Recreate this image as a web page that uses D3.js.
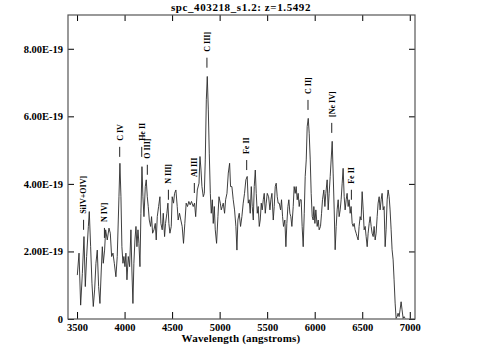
<!DOCTYPE html>
<html>
<head>
<meta charset="utf-8">
<script src="https://cdn.jsdelivr.net/npm/d3@7"></script>
<style>
  body { margin: 0; background: #fff; }
  text { font-family: "Liberation Serif", serif; font-weight: bold; }
</style>
</head>
<body>
<div id="app"></div>
<script>
var width = 483,
  height = 358;

// spectrum, wavelength in angstroms, flux in units of 1e-19
var wave = [3503,3521,3538,3556,3573,3587,3601,3619,3629,3643,3657,3671,3685,3699,3713,3727,3741,3755,3766,3776,
  3790,3801,3818,3836,3850,3864,3878,3892,3909,3923,3941,3951,3962,3972,3983,3993,4004,4014,4025,4039,
  4053,4067,4077,4088,4098,4109,4120,4130,4141,4151,4162,4172,4183,4193,4204,4218,4228,4239,4249,4260,
  4274,4284,4295,4309,4323,4333,4344,4358,4372,4382,4396,4407,4421,4431,4445,4456,4466,4477,4491,4501,
  4515,4526,4540,4554,4564,4578,4592,4606,4620,4634,4648,4662,4676,4690,4704,4722,4736,4748,4765,4783,
  4793,4804,4814,4828,4839,4849,4860,4870,4881,4891,4902,4912,4923,4933,4944,4954,4968,4982,4993,5007,
  5017,5028,5038,5052,5063,5077,5091,5105,5115,5129,5143,5157,5171,5182,5192,5206,5220,5234,5248,5262,
  5276,5290,5301,5311,5322,5333,5343,5354,5364,5375,5385,5396,5406,5417,5427,5438,5448,5459,5469,5480,
  5490,5501,5515,5529,5539,5550,5564,5574,5585,5595,5606,5616,5627,5641,5651,5662,5672,5686,5697,5707,
  5718,5728,5739,5749,5760,5774,5784,5795,5805,5816,5826,5837,5847,5858,5868,5879,5890,5900,5911,5921,
  5932,5942,5953,5963,5974,5984,5991,6002,6012,6026,6037,6047,6061,6072,6082,6096,6107,6117,6131,6142,
  6152,6163,6173,6184,6194,6205,6215,6226,6236,6247,6257,6268,6278,6289,6299,6310,6320,6331,6341,6352,
  6362,6373,6383,6394,6404,6415,6425,6436,6446,6457,6467,6478,6488,6499,6510,6520,6531,6541,6552,6562,
  6573,6583,6594,6604,6615,6625,6636,6646,6657,6667,6678,6688,6699,6709,6720,6730,6741,6751,6762,6772,
  6783,6793,6804,6814,6825,6835,6846,6856,6867,6877,6888,6898,6909,6919,6930,6940,6951];

var flux = [1.30,1.95,0.41,1.35,2.44,0.96,1.85,2.74,3.18,2.14,1.06,0.37,0.86,1.65,2.04,0.96,0.46,1.45,2.14,1.65,
  2.04,2.64,2.34,2.69,2.54,1.85,1.95,1.65,1.25,1.85,3.62,4.61,3.62,2.14,1.65,1.85,1.55,1.95,1.16,1.85,
  1.55,2.64,1.45,0.46,1.65,2.34,2.74,2.14,2.64,2.24,1.55,3.13,4.51,3.62,3.03,3.92,4.12,3.62,3.33,2.93,
  2.74,3.03,2.54,2.64,2.83,2.34,3.03,3.33,3.62,2.83,2.64,3.13,2.44,2.83,3.13,3.43,2.83,2.54,2.74,3.62,
  3.43,3.72,3.82,3.33,2.93,3.13,2.93,2.74,2.24,2.83,3.43,3.33,3.48,3.38,3.48,3.33,3.43,3.03,3.82,4.02,
  4.81,4.41,3.92,3.62,3.72,4.71,6.49,7.18,6.19,4.91,3.72,3.13,3.53,2.83,3.33,2.64,2.24,3.03,3.62,3.43,
  3.23,3.33,3.43,3.13,3.53,3.72,4.32,4.61,3.92,3.92,3.53,3.23,2.74,2.04,2.93,3.13,2.74,3.03,3.43,3.72,
  4.12,4.22,3.43,3.53,3.13,3.92,3.33,2.93,3.92,4.41,3.72,3.13,3.33,2.74,2.93,3.43,3.23,3.53,3.72,3.13,
  3.43,3.72,3.62,3.23,3.53,3.72,2.93,3.33,3.92,4.02,3.62,3.43,3.43,3.23,3.53,3.03,2.74,2.93,2.14,2.83,
  3.33,3.53,3.13,3.03,2.74,3.33,3.92,3.72,3.92,3.53,3.72,3.33,3.53,3.53,2.74,2.14,3.13,4.22,4.71,5.70,
  5.94,5.50,4.71,3.72,3.03,2.93,3.33,2.83,3.23,2.74,2.93,2.64,2.74,3.13,3.53,3.82,3.33,3.72,4.12,3.23,
  3.72,4.22,4.71,5.26,4.32,3.23,2.05,2.74,3.23,3.53,3.03,3.23,3.53,4.02,4.46,3.62,3.23,3.53,3.72,3.33,
  3.53,3.13,3.33,2.83,2.74,2.83,2.64,2.54,2.44,2.34,2.74,3.03,2.93,3.77,3.23,2.64,2.74,2.44,2.14,2.54,
  2.83,3.03,2.74,2.54,2.44,2.74,2.34,2.54,3.03,3.43,3.62,3.23,3.53,3.72,3.23,3.33,2.14,2.64,3.53,3.82,
  3.62,3.23,2.64,2.05,1.75,1.16,0.47,0.02,0.07,0.17,0.07,0.27,0.51,0.27,0.02,0.07,0.02];

// line identifications (rest wavelengths) and the flux level under each tag
var redshift = 1.5492;
var lineNames = ["SiIV+OIV]", "N IV]", "C IV", "He II", "O III]", "N III]", "Al III", "C III]", "Fe II", "C II]", "[Ne IV]", "Fe II"];
var lineRest = [1400, 1486, 1549, 1640, 1663, 1750, 1857, 1909, 2073, 2326, 2424, 2505];
var lineLevel = [2.64, 2.40, 4.80, 4.80, 4.27, 3.53, 3.73, 7.44, 4.41, 6.19, 5.51, 3.53];

var xTicks = [3500, 4000, 4500, 5000, 5500, 6000, 6500, 7000];
var yTicks = [0, 2, 4, 6, 8];

var svg = d3
  .select("#app")
  .append("svg")
  .attr("width", width)
  .attr("height", height)
  .attr("style", "background-color:#ffffff");

let x = d3.scaleLinear().domain([3405, 7055]).range([68, 415]);
let y = d3.scaleLinear().domain([0, 9]).range([319, 15]);

// axes, ticks pointing inward
svg
  .append("g")
  .attr("transform", "translate(0," + y(0) + ")")
  .call(d3.axisBottom(x).tickValues(xTicks).tickSizeInner(-7).tickSizeOuter(0).tickPadding(5).tickFormat(d3.format("d")))
  .call((g) => g.select(".domain").remove())
  .call((g) => g.selectAll("text").attr("font-size", 10.5).attr("font-family", "Liberation Serif"));

svg
  .append("g")
  .attr("transform", "translate(0," + y(9) + ")")
  .call(d3.axisTop(x).tickValues(xTicks).tickSizeInner(-6).tickSizeOuter(0).tickFormat(""))
  .call((g) => g.select(".domain").remove());

svg
  .append("g")
  .attr("transform", "translate(" + x.range()[0] + ",0)")
  .call(
    d3.axisLeft(y).tickValues(yTicks).tickSizeInner(-6).tickSizeOuter(0).tickPadding(5)
      .tickFormat((d) => (d === 0 ? "0" : d.toFixed(2) + "E-19"))
  )
  .call((g) => g.select(".domain").remove())
  .call((g) => g.selectAll("text").attr("font-size", 10.5).attr("font-family", "Liberation Serif"));

svg
  .append("g")
  .attr("transform", "translate(" + x.range()[1] + ",0)")
  .call(d3.axisRight(y).tickValues(yTicks).tickSizeInner(-6).tickSizeOuter(0).tickFormat(""))
  .call((g) => g.select(".domain").remove());

// frame
svg
  .append("rect")
  .attr("x", x.range()[0])
  .attr("y", y(9))
  .attr("width", x.range()[1] - x.range()[0])
  .attr("height", y(0) - y(9))
  .attr("fill", "none")
  .attr("stroke", "#555")
  .attr("stroke-width", 1.2);

// spectrum
svg
  .append("path")
  .datum(wave)
  .attr(
    "d",
    d3
      .line()
      .x((d, i) => x(wave[i]))
      .y((d, i) => y(flux[i]))
  )
  .attr("fill", "none")
  .attr("stroke", "#2a2a2a")
  .attr("stroke-width", 0.9);

// line ids
var ids = svg.append("g").attr("class", "ids");
lineNames.forEach(function (name, i) {
  var px = x(lineRest[i] * (1 + redshift));
  var py = y(lineLevel[i]);
  ids
    .append("line")
    .attr("x1", px)
    .attr("x2", px)
    .attr("y1", py)
    .attr("y2", py - 10)
    .attr("stroke", "#222")
    .attr("stroke-width", 1);
  ids
    .append("text")
    .attr("transform", "translate(" + px + "," + (py - 16) + ") rotate(-90)")
    .attr("dy", "0.35em")
    .attr("font-size", 8)
    .attr("text-anchor", "start")
    .text(name);
});

// title and x label
svg
  .append("text")
  .attr("x", 241)
  .attr("y", 10.5)
  .attr("text-anchor", "middle")
  .attr("font-size", 11)
  .attr("letter-spacing", 0.6)
  .text("spc_403218_s1.2: z=1.5492");

svg
  .append("text")
  .attr("x", 241)
  .attr("y", 342)
  .attr("text-anchor", "middle")
  .attr("font-size", 11)
  .attr("letter-spacing", 0.2)
  .text("Wavelength (angstroms)");
</script>
</body>
</html>
